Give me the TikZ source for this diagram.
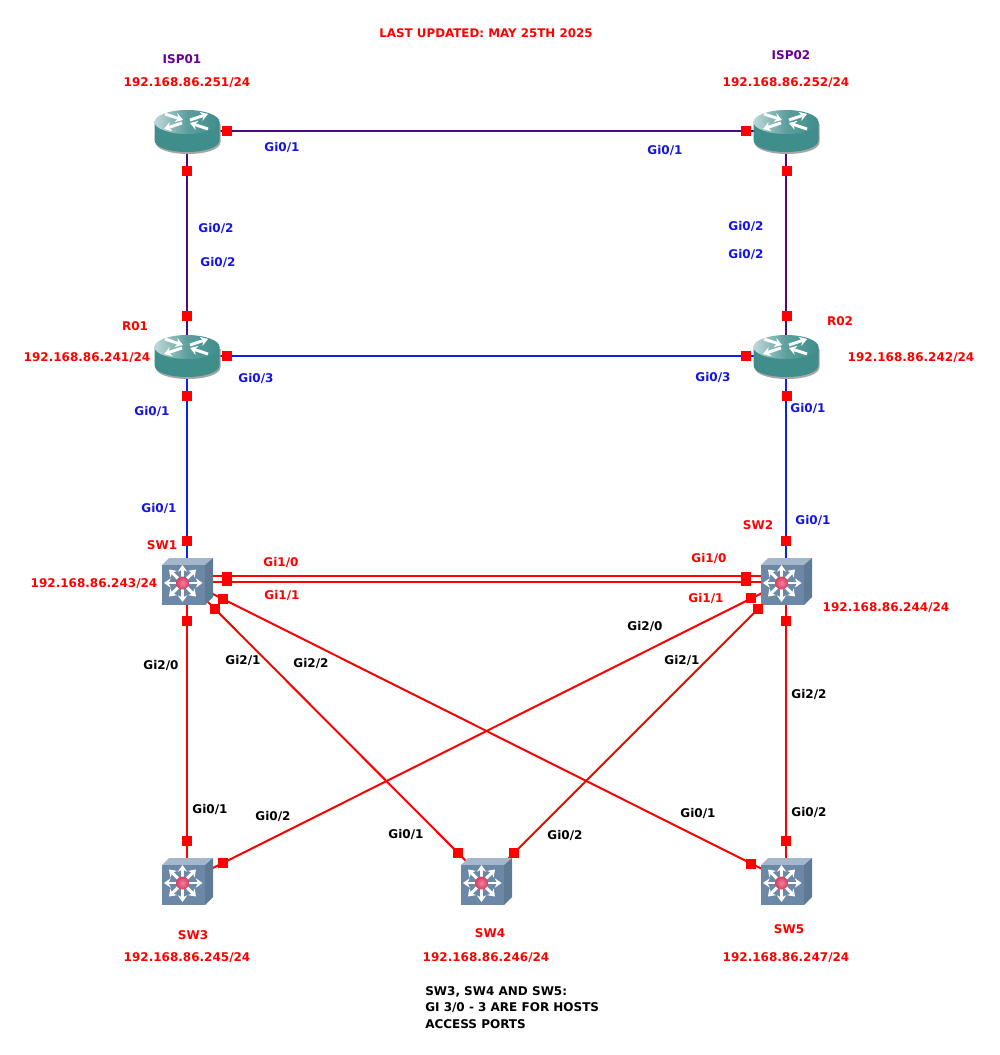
\documentclass[tikz,border=0pt]{standalone}
\usepackage{fontspec}
\setmainfont{DejaVu Sans}
\usetikzlibrary{arrows.meta}
\definecolor{wanpurple}{HTML}{4B0A82}
\definecolor{lanblue}{HTML}{0F1FF0}
\definecolor{labelblue}{HTML}{1414E6}
\definecolor{ispviolet}{HTML}{660099}
\definecolor{routerteal}{HTML}{3F8E8C}
\definecolor{routerlight}{HTML}{BFD8D8}
\definecolor{switchfront}{HTML}{6C88A6}
\definecolor{switchtop}{HTML}{A3B6CB}
\definecolor{switchside}{HTML}{5E7A94}
\definecolor{discin}{HTML}{F0829C}
\definecolor{discout}{HTML}{D83C60}
\tikzset{
    routernode/.style={minimum width=48.75pt, minimum height=31.5pt, inner sep=0pt},
    switchnode/.style={minimum width=38.25pt, minimum height=35.25pt, inner sep=0pt},
    portbox/.style={fill=red, minimum size=7.5pt, inner sep=0pt},
    wanlink/.style={wanpurple, line width=1.5pt},
    lanlink/.style={lanblue, line width=1.5pt},
    swlink/.style={red, line width=1.5pt},
    txt/.style={font=\bfseries\fontsize{9pt}{11pt}\selectfont, inner sep=0pt, yshift=-0.6pt},
    redtxt/.style={txt, red},
    bluetxt/.style={txt, labelblue},
    blacktxt/.style={txt, black},
    isptxt/.style={txt, ispviolet},
    routerarrow/.style={white, line width=2.2pt, -{Stealth[length=5.5pt,width=7pt]}},
    switcharrow/.style={white, line width=2.2pt, -{Stealth[length=5pt,width=7pt]}}
}
\newcommand{\routericon}[1]{
    \begin{scope}[shift={(#1)}]
        \fill[gray!70] (-31.5,-7) -- (-31.5,11) .. controls (-31.5,27) and (33.5,27) .. (33.5,11) -- (33.5,-7) -- cycle;
        \fill[routerteal] (-32.5,-9) -- (-32.5,9) .. controls (-32.5,25) and (32.5,25) .. (32.5,9) -- (32.5,-9) -- cycle;
        \shade[left color=routerlight, right color=routerteal, middle color=routerteal!85!white] (0,-9) ellipse [x radius=32.5, y radius=12];
        \draw[routerarrow] (-22,-17) -- (-4,-11);
        \draw[routerarrow] (3,-11) -- (21,-17);
        \draw[routerarrow] (-5,-8) -- (-23,-2);
        \draw[routerarrow] (21,-2) -- (3,-8);
    \end{scope}
}
\newcommand{\switchicon}[1]{
    \begin{scope}[shift={(#1)}]
        \fill[switchtop] (-25,-16) -- (-18,-23) -- (26,-23) -- (18,-16) -- cycle;
        \fill[switchside] (18,-16) -- (26,-23) -- (26,16) -- (18,24) -- cycle;
        \fill[switchfront] (-25,-16) rectangle (18,24);
        \draw[switcharrow] (-4.5,2) -- (15.5,2);
        \draw[switcharrow] (-4.5,2) -- (-23,2);
        \draw[switcharrow] (-4.5,2) -- (-4.5,-16);
        \draw[switcharrow] (-4.5,2) -- (-4.5,21);
        \draw[switcharrow] (-4.5,2) -- (9,-11.5);
        \draw[switcharrow] (-4.5,2) -- (-18,-11.5);
        \draw[switcharrow] (-4.5,2) -- (9,15.5);
        \draw[switcharrow] (-4.5,2) -- (-18,15.5);
        \shade[inner color=discin, outer color=discout] (-4.5,2) circle (6.5);
    \end{scope}
}
\begin{document}
\begin{tikzpicture}[x=0.75pt, y=-0.75pt]
    \useasboundingbox (0,0) rectangle (999,1055);

    % devices
    \node[routernode] (isp01) at (187,131) {};
    \node[routernode] (isp02) at (786,131) {};
    \node[routernode] (r01) at (187,356) {};
    \node[routernode] (r02) at (786,356) {};
    \node[switchnode] (sw1) at (187,581) {};
    \node[switchnode] (sw2) at (786,581) {};
    \node[switchnode] (sw3) at (187,881) {};
    \node[switchnode] (sw4) at (486,881) {};
    \node[switchnode] (sw5) at (786,881) {};
    \coordinate (gi10) at (227,576);
    \coordinate (gi11) at (227,582);

    % links
    \draw[wanlink] (isp01.center) -- (isp02.center);
    \draw[wanlink] (isp01.center) -- (r01.center);
    \draw[wanlink] (isp02.center) -- (r02.center);
    \draw[lanlink] (r01.center) -- (r02.center);
    \draw[lanlink] (r01.center) -- (sw1.center);
    \draw[lanlink] (r02.center) -- (sw2.center);
    \draw[swlink] (sw1.center |- gi10) -- (sw2.center |- gi10);
    \draw[swlink] (sw1.center |- gi11) -- (sw2.center |- gi11);
    \draw[swlink] (sw1.center) -- (sw3.center);
    \draw[swlink] (sw1.center) -- (sw4.center);
    \draw[swlink] (sw1.center) -- (sw5.center);
    \draw[swlink] (sw2.center) -- (sw3.center);
    \draw[swlink] (sw2.center) -- (sw4.center);
    \draw[swlink] (sw2.center) -- (sw5.center);

    % icons
    \routericon{isp01}
    \routericon{isp02}
    \routericon{r01}
    \routericon{r02}
    \switchicon{sw1}
    \switchicon{sw2}
    \switchicon{sw3}
    \switchicon{sw4}
    \switchicon{sw5}

    % ports
    \node[portbox] (pisp1e) at (227,131) {};
    \node[portbox] (pisp2w) at (746,131) {};
    \node[portbox] (pisp1s) at (187,171) {};
    \node[portbox] (pisp2s) at (787,171) {};
    \node[portbox] (pr1n) at (187,316) {};
    \node[portbox] (pr2n) at (787,316) {};
    \node[portbox] (pr1e) at (227,356) {};
    \node[portbox] (pr2w) at (746,356) {};
    \node[portbox] (pr1s) at (187,396) {};
    \node[portbox] (pr2s) at (787,396) {};
    \node[portbox] (psw1n) at (187,541) {};
    \node[portbox] (psw2n) at (786,541) {};
    \node[portbox] (psw1a) at (227,577) {};
    \node[portbox] (psw1b) at (227,581) {};
    \node[portbox] (psw2a) at (746,577) {};
    \node[portbox] (psw2b) at (746,581) {};
    \node[portbox] (psw1s) at (187,621) {};
    \node[portbox] (psw2s) at (786,621) {};
    \node[portbox] (psw1d) at (223,599) {};
    \node[portbox] (psw1c) at (215,609) {};
    \node[portbox] (psw2d) at (751,598) {};
    \node[portbox] (psw2c) at (758,609) {};
    \node[portbox] (psw3n) at (187,841) {};
    \node[portbox] (psw3e) at (223,863) {};
    \node[portbox] (psw4w) at (458,853) {};
    \node[portbox] (psw4e) at (514,853) {};
    \node[portbox] (psw5w) at (751,864) {};
    \node[portbox] (psw5n) at (786,841) {};

    % names and addresses
    \node[redtxt, font=\bfseries\fontsize{8.9pt}{11pt}\selectfont] (title) at (486,32) {LAST UPDATED: MAY 25TH 2025};
    \node[isptxt] (nisp01) at (182,58) {ISP01};
    \node[isptxt] (nisp02) at (791,54) {ISP02};
    \node[redtxt] (ipisp01) at (187,82) {192.168.86.251/24};
    \node[redtxt] (ipisp02) at (786,82) {192.168.86.252/24};
    \node[redtxt] (nr01) at (135,325) {R01};
    \node[redtxt] (nr02) at (840,320) {R02};
    \node[redtxt] (ipr01) at (87,357) {192.168.86.241/24};
    \node[redtxt] (ipr02) at (911,357) {192.168.86.242/24};
    \node[redtxt] (nsw1) at (162,544) {SW1};
    \node[redtxt] (nsw2) at (758,524) {SW2};
    \node[redtxt] (ipsw1) at (94,583) {192.168.86.243/24};
    \node[redtxt] (ipsw2) at (886,607) {192.168.86.244/24};
    \node[redtxt] (nsw3) at (193,934) {SW3};
    \node[redtxt] (nsw4) at (490,932) {SW4};
    \node[redtxt] (nsw5) at (789,928) {SW5};
    \node[redtxt] (ipsw3) at (187,957) {192.168.86.245/24};
    \node[redtxt] (ipsw4) at (486,957) {192.168.86.246/24};
    \node[redtxt] (ipsw5) at (786,957) {192.168.86.247/24};

    % interface labels
    \node[bluetxt] (gia) at (282,147) {Gi0/1};
    \node[bluetxt] (gib) at (665,150) {Gi0/1};
    \node[bluetxt] (gic) at (216,228) {Gi0/2};
    \node[bluetxt] (gid) at (218,262) {Gi0/2};
    \node[bluetxt] (gie) at (746,226) {Gi0/2};
    \node[bluetxt] (gif) at (746,254) {Gi0/2};
    \node[bluetxt] (gig) at (256,378) {Gi0/3};
    \node[bluetxt] (gih) at (713,377) {Gi0/3};
    \node[bluetxt] (gii) at (152,411) {Gi0/1};
    \node[bluetxt] (gij) at (808,408) {Gi0/1};
    \node[bluetxt] (gik) at (159,508) {Gi0/1};
    \node[bluetxt] (gil) at (813,520) {Gi0/1};
    \node[redtxt] (gim) at (281,562) {Gi1/0};
    \node[redtxt] (gin) at (709,558) {Gi1/0};
    \node[redtxt] (gio) at (282,595) {Gi1/1};
    \node[redtxt] (gip) at (706,598) {Gi1/1};
    \node[blacktxt] (giq) at (161,665) {Gi2/0};
    \node[blacktxt] (gir) at (243,660) {Gi2/1};
    \node[blacktxt] (gis) at (311,663) {Gi2/2};
    \node[blacktxt] (git) at (645,626) {Gi2/0};
    \node[blacktxt] (giu) at (682,660) {Gi2/1};
    \node[blacktxt] (giv) at (809,694) {Gi2/2};
    \node[blacktxt] (giw) at (210,809) {Gi0/1};
    \node[blacktxt] (gix) at (273,816) {Gi0/2};
    \node[blacktxt] (giy) at (406,834) {Gi0/1};
    \node[blacktxt] (giz) at (565,835) {Gi0/2};
    \node[blacktxt] (giaa) at (698,813) {Gi0/1};
    \node[blacktxt] (gibb) at (809,812) {Gi0/2};

    % note
    \node[blacktxt, anchor=west] (notea) at (425,991) {SW3, SW4 AND SW5:};
    \node[blacktxt, anchor=west] (noteb) at (425,1007) {GI 3/0 - 3 ARE FOR HOSTS};
    \node[blacktxt, anchor=west] (notec) at (425,1023) {ACCESS PORTS};
\end{tikzpicture}
\end{document}
